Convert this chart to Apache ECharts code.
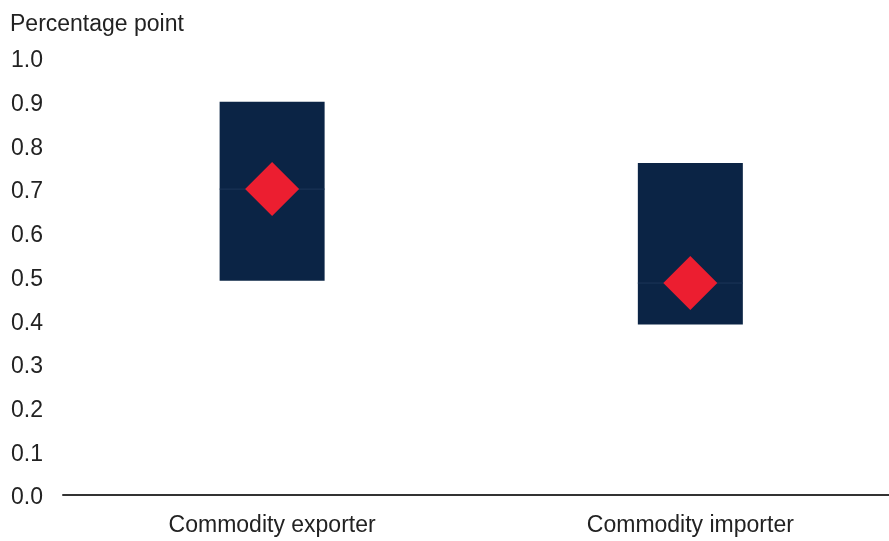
<!DOCTYPE html>
<html>
<head>
<meta charset="utf-8">
<script src="https://cdn.jsdelivr.net/npm/echarts@6/dist/echarts.min.js"></script>
<style>html,body{margin:0;padding:0;background:#fff}#c{width:889px;height:541px}</style>
</head>
<body>
<div id="c"></div>
<script>
var categories = ['Commodity exporter', 'Commodity importer'];
var rangeLow = [0.49, 0.39];
var rangeHigh = [0.90, 0.76];
var pointEstimate = [0.70, 0.485];
var yTicks = [0.0, 0.1, 0.2, 0.3, 0.4, 0.5, 0.6, 0.7, 0.8, 0.9, 1.0];

var font = 'Liberation Sans, Arial, sans-serif';
var rangeData = categories.map(function (c, i) { return [i, rangeLow[i], rangeHigh[i]]; });
var pointData = categories.map(function (c, i) { return [i, pointEstimate[i]]; });

var chart = echarts.init(document.getElementById('c'), null, {renderer: 'canvas'});
chart.setOption({
  animation: false,
  graphic: [{
    type: 'text', left: 10, top: 13,
    style: {text: 'Percentage point', font: '23px ' + font, fill: '#222'}
  }],
  grid: {left: 63, top: 58, right: 0, bottom: 46, containLabel: false},
  xAxis: {
    type: 'value', min: -0.5, max: 1.475, interval: 0.5,
    splitLine: {show: false},
    axisLine: {show: true, onZero: false, lineStyle: {color: '#333', width: 2}},
    axisTick: {show: false},
    axisLabel: {
      color: '#222', fontSize: 23, fontFamily: font, margin: 19,
      showMinLabel: true, showMaxLabel: false,
      formatter: function (v) {
        var i = Math.round(v);
        return (Math.abs(v - i) < 1e-6 && categories[i]) ? categories[i] : '';
      }
    }
  },
  yAxis: {
    type: 'value', min: 0, max: 1, interval: 0.1,
    splitLine: {show: false},
    axisLine: {show: false}, axisTick: {show: false},
    axisLabel: {
      color: '#222', fontSize: 23, fontFamily: font, align: 'left', margin: 52,
      rich: {t: {fontSize: 23, fontFamily: font, color: '#222', padding: [6, 0, 0, 0]}},
      formatter: function (v) {
        var idx = yTicks.findIndex(function (t) { return Math.abs(t - v) < 1e-6; });
        return idx >= 0 ? '{t|' + yTicks[idx].toFixed(1) + '}' : '';
      }
    }
  },
  series: [
    {
      type: 'custom', data: rangeData, z: 2,
      renderItem: function (params, api) {
        var top = api.coord([api.value(0), api.value(2)]);
        var bot = api.coord([api.value(0), api.value(1)]);
        var w = 105;
        return {type: 'rect', shape: {x: top[0] - w / 2, y: top[1], width: w, height: bot[1] - top[1]},
                style: {fill: '#0b2445'}};
      }
    },
    {
      type: 'custom', data: pointData, z: 3,
      renderItem: function (params, api) {
        var p = api.coord([api.value(0), api.value(1)]);
        var w = 105;
        return {type: 'line', shape: {x1: p[0] - w / 2, y1: p[1], x2: p[0] + w / 2, y2: p[1]},
                style: {stroke: '#1d3658', lineWidth: 1}};
      }
    },
    {type: 'scatter', data: pointData, symbol: 'diamond', symbolSize: [54, 54], itemStyle: {color: '#ec1e30', opacity: 1}, z: 4}
  ]
});
</script>
</body>
</html>
